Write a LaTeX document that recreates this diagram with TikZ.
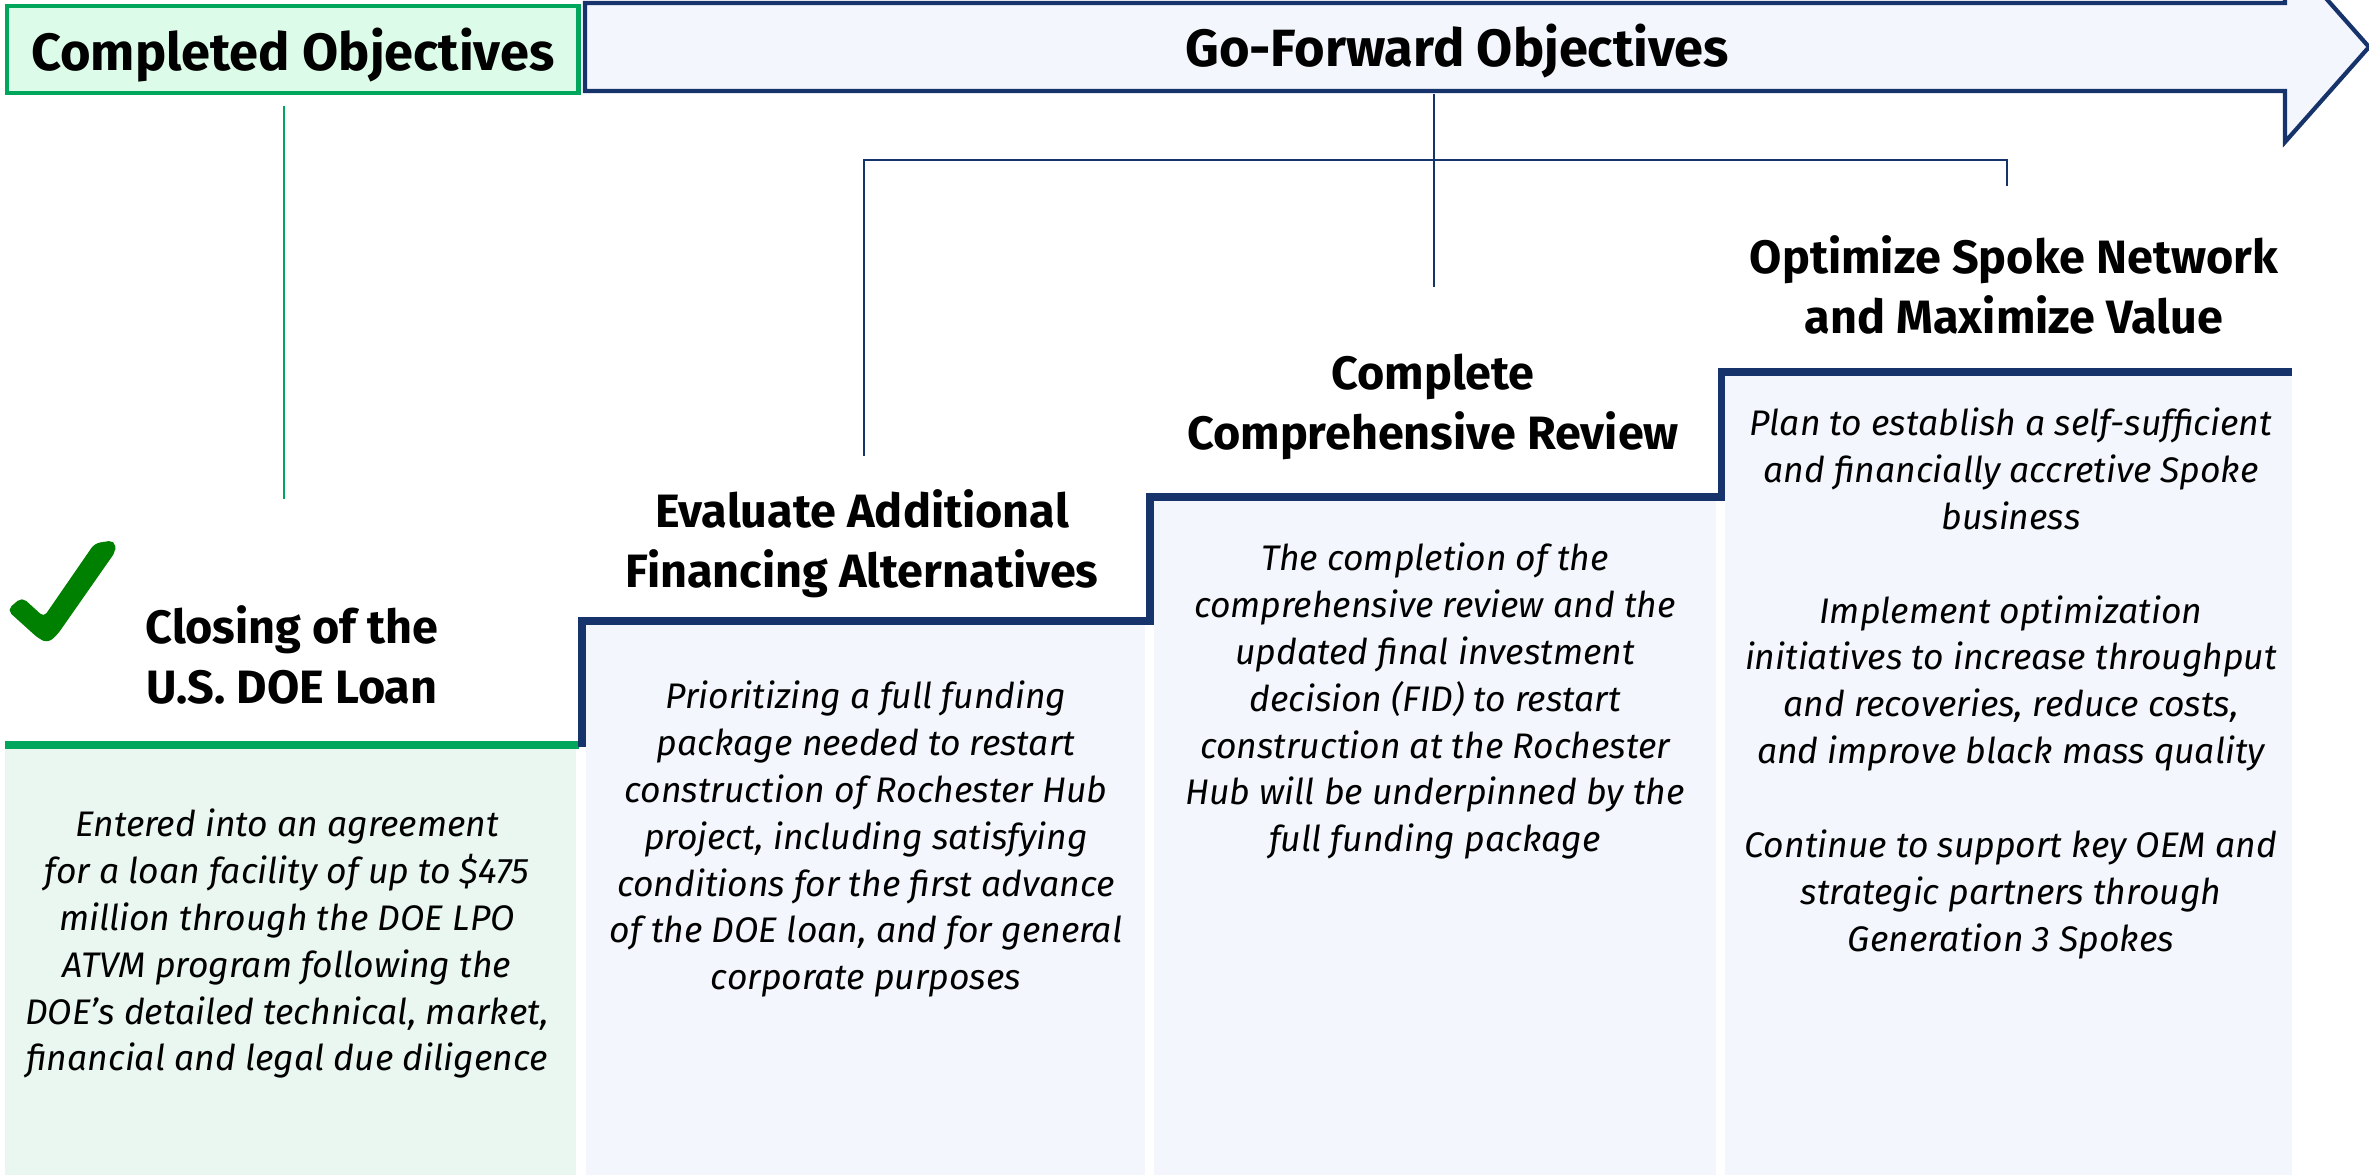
\documentclass[tikz,border=0pt]{standalone}
\usepackage{fontspec}
\setmainfont{Fira Sans}
\usetikzlibrary{positioning}

\definecolor{navy}{HTML}{17336B}
\definecolor{okgreen}{HTML}{00A65C}
\definecolor{tickgreen}{HTML}{008000}
\definecolor{mint}{HTML}{DCFCE9}
\definecolor{mintpale}{HTML}{EAF7F0}
\definecolor{bluepale}{HTML}{F3F6FC}

\begin{document}
\begin{tikzpicture}[x=0.01cm, y=-0.01cm,
  hdr/.style={font=\bfseries\fontsize{14.9}{17}\selectfont},
  ttl/.style={font=\bfseries\fontsize{13.3}{17.07}\selectfont, align=center, anchor=north, inner sep=0pt},
  txt/.style={font=\itshape\fontsize{10.1}{13.34}\selectfont, align=center, anchor=north, inner sep=0pt},
  navyline/.style={draw=navy, line width=0.6pt},
  stepline/.style={draw=navy, line width=2pt},
]
\useasboundingbox (0,0) rectangle (2369,1175);
\clip (0,0) rectangle (2369,1175);


% Completed objectives box
\node[hdr, draw=okgreen, fill=mint, line width=1.2pt, anchor=north west,
      minimum width=5.71cm, minimum height=0.87cm, text depth=0pt]
  (compl) at (5,4) {Completed Objectives};

% Go-forward arrow
\filldraw[fill=bluepale, draw=navy, line width=1.2pt]
  (585,3) -- (2285,3) -- (2285,-48) -- (2369,47) -- (2285,142) -- (2285,91) -- (585,91) -- cycle;
\path
(1457,66) node [hdr, anchor=base] (gofwd) {Go-Forward Objectives};


% Column fills
\fill[mintpale] (5,748) rectangle (576,1175);
\fill[bluepale] (586,624) rectangle (1145,1175);
\fill[bluepale] (1154,500) rectangle (1716,1175);
\fill[bluepale] (1725,375) rectangle (2292,1175);

% Green base line and blue steps
\draw[okgreen, line width=2pt] (5,745) -- (579,745);
\draw[stepline] (582,747) -- (582,621) -- (1150,621) -- (1150,497) -- (1721,497) -- (1721,372) -- (2292,372);


% Check mark
\filldraw[fill=tickgreen, draw=tickgreen, rounded corners=1.5pt]
  (8,610) -- (22,598) -- (44,618) -- (95,544) -- (114,541) -- (115,551) -- (57,634) -- (48,642) -- (39,638) -- cycle;

% Step titles
\node[ttl] (closing) at (292,605) {Closing of the\\U.S. DOE Loan};
\node[ttl] (evaluate) at (862,489) {Evaluate Additional\\Financing Alternatives};
\node[ttl] (review) at (1433,353) {Complete\\Comprehensive Review};
\node[ttl] (optimize) at (2014,235) {Optimize Spoke Network\\and Maximize Value};


% Step texts
\node[txt] (closingtxt) at (287,808) {Entered into an agreement\\for a loan facility of up to \$475\\million through the DOE LPO\\ATVM program following the\\DOE's detailed technical, market,\\financial and legal due diligence};
\node[txt] (evaluatetxt) at (866,680) {Prioritizing a full funding\\package needed to restart\\construction of Rochester Hub\\project, including satisfying\\conditions for the first advance\\of the DOE loan, and for general\\corporate purposes};
\node[txt] (reviewtxt) at (1435,542) {The completion of the\\comprehensive review and the\\updated final investment\\decision (FID) to restart\\construction at the Rochester\\Hub will be underpinned by the\\full funding package};
\node[txt] (optimizetxt) at (2011,407) {Plan to establish a self-sufficient\\and financially accretive Spoke\\business\\[13.34pt]Implement optimization\\initiatives to increase throughput\\and recoveries, reduce costs,\\and improve black mass quality\\[13.34pt]Continue to support key OEM and\\strategic partners through\\Generation 3 Spokes};


% Connector ends
\coordinate (gtop) at (284,106);
\coordinate (gbot) at (284,499);
\coordinate (btop) at (1434,94);
\coordinate (bmid) at (1434,160);
\coordinate (bbot) at (1434,287);
\coordinate (bleft) at (864,160);
\coordinate (bleftend) at (864,456);
\coordinate (bright) at (2007,160);
\coordinate (brightend) at (2007,186);

\draw[okgreen, line width=0.6pt] (gtop) -- (gbot);
\draw[navyline] (btop) -- (bbot);
\draw[navyline] (bleftend) -- (bleft) -- (bright) -- (brightend);


\end{tikzpicture}
\end{document}
